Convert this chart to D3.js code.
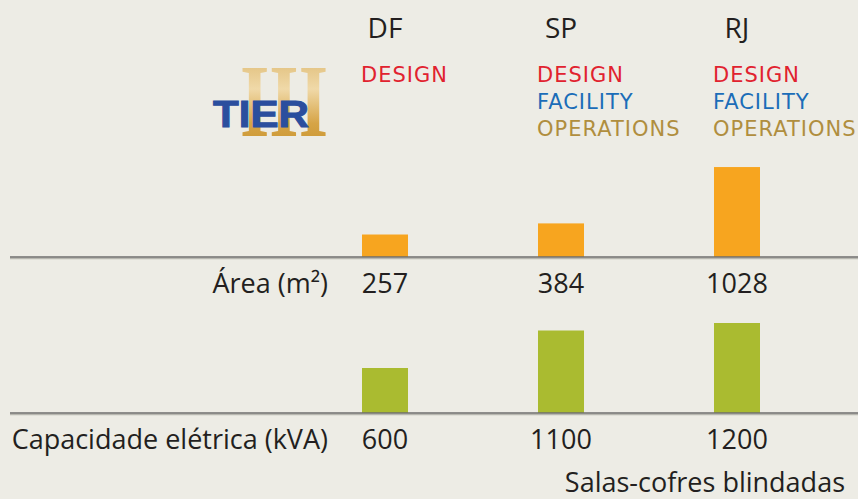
<!DOCTYPE html>
<html>
<head>
<meta charset="utf-8">
<script src="https://cdn.jsdelivr.net/npm/d3@7"></script>
<style>
  html, body { margin: 0; padding: 0; background: #edece5; }
  svg { display: block; }
</style>
</head>
<body>
<div id="chart"></div>
<script>
const width = 858;
const height = 499;

const cities = ["DF", "SP", "RJ"];
const areaValues = [257, 384, 1028];
const powerValues = [600, 1100, 1200];
const certifications = [
  ["DESIGN"],
  ["DESIGN", "FACILITY", "OPERATIONS"],
  ["DESIGN", "FACILITY", "OPERATIONS"]
];
const rowLabels = ["Área (m²)", "Capacidade elétrica (kVA)"];
const footnote = "Salas-cofres blindadas";

const certColors = { DESIGN: "#e1222f", FACILITY: "#1b6db8", OPERATIONS: "#b08e3e" };
const textFont = "'Open Sans', 'Noto Sans', sans-serif";

const svg = d3.select("#chart")
  .append("svg")
  .attr("width", width)
  .attr("height", height);

svg.append("rect").attr("width", width).attr("height", height).attr("fill", "#edece5");

const x = d3.scaleBand()
  .domain(cities)
  .range([362, 760])
  .paddingInner(0.7386)
  .paddingOuter(0);

const rows = [
  { label: rowLabels[0], values: areaValues, color: "#f7a51f",
    y: d3.scaleLinear().domain([0, 1200]).range([257, 152]), textY: 293 },
  { label: rowLabels[1], values: powerValues, color: "#aabb30",
    y: d3.scaleLinear().domain([0, 1200]).range([413, 323]), textY: 449 }
];

// column headers
svg.selectAll(".city")
  .data(cities)
  .enter()
  .append("text")
  .attr("class", "city")
  .attr("x", (d) => x(d) + x.bandwidth() / 2)
  .attr("y", 38)
  .attr("text-anchor", "middle")
  .attr("font-family", textFont)
  .attr("font-size", 28)
  .attr("fill", "#231f20")
  .text((d) => d);

// certification labels
cities.forEach((c, i) => {
  svg.selectAll(null)
    .data(certifications[i])
    .enter()
    .append("text")
    .attr("x", x(c) - 1)
    .attr("y", (_, j) => 82 + j * 27)
    .attr("font-family", "'DejaVu Sans', sans-serif")
    .attr("font-size", 21)
    .attr("letter-spacing", 1)
    .attr("fill", (d) => certColors[d])
    .text((d) => d);
});

// TIER III logo
const defs = svg.append("defs");
const grad = defs.append("linearGradient")
  .attr("id", "gold")
  .attr("x1", 0).attr("y1", 0).attr("x2", 0).attr("y2", 1);
grad.append("stop").attr("offset", "0%").attr("stop-color", "#d8b163");
grad.append("stop").attr("offset", "40%").attr("stop-color", "#f0d9a8");
grad.append("stop").attr("offset", "70%").attr("stop-color", "#d6a446");
grad.append("stop").attr("offset", "100%").attr("stop-color", "#c58f28");

svg.append("text")
  .attr("x", 240)
  .attr("y", 136)
  .attr("textLength", 88)
  .attr("lengthAdjust", "spacingAndGlyphs")
  .attr("font-family", "'Liberation Serif', 'DejaVu Serif', serif")
  .attr("font-weight", "bold")
  .attr("font-size", 104)
  .attr("fill", "url(#gold)")
  .text("III");

svg.append("text")
  .attr("x", 213)
  .attr("y", 127)
  .attr("textLength", 96)
  .attr("lengthAdjust", "spacingAndGlyphs")
  .attr("font-family", "'Liberation Sans', Arial, sans-serif")
  .attr("font-weight", "bold")
  .attr("font-size", 37)
  .attr("fill", "#2b4e9e")
  .attr("stroke", "#2b4e9e")
  .attr("stroke-width", 1)
  .text("TIER");

// bar rows
rows.forEach((row) => {
  const g = svg.append("g");

  g.selectAll(".bar")
    .data(row.values)
    .enter()
    .append("rect")
    .attr("class", "bar")
    .attr("x", (_, i) => x(cities[i]))
    .attr("y", (d) => row.y(d))
    .attr("width", x.bandwidth())
    .attr("height", (d) => row.y(0) - row.y(d))
    .attr("fill", row.color);

  // baseline with soft shadow
  g.append("line")
    .attr("x1", 10).attr("x2", width)
    .attr("y1", row.y(0) + 1.5).attr("y2", row.y(0) + 1.5)
    .attr("stroke", "#b8b7b0")
    .attr("stroke-width", 1.5);
  g.append("line")
    .attr("x1", 10).attr("x2", width)
    .attr("y1", row.y(0)).attr("y2", row.y(0))
    .attr("stroke", "#6e6e6c")
    .attr("stroke-width", 1.6);

  g.selectAll(".val")
    .data(row.values)
    .enter()
    .append("text")
    .attr("class", "val")
    .attr("x", (_, i) => x(cities[i]) + x.bandwidth() / 2)
    .attr("y", row.textY)
    .attr("text-anchor", "middle")
    .attr("font-family", textFont)
    .attr("font-size", 27)
    .attr("fill", "#231f20")
    .text((d) => d);

  g.append("text")
    .attr("x", 328)
    .attr("y", row.textY)
    .attr("text-anchor", "end")
    .attr("font-family", textFont)
    .attr("font-size", 27)
    .attr("fill", "#231f20")
    .text(row.label);
});

svg.append("text")
  .attr("x", 845)
  .attr("y", 492)
  .attr("text-anchor", "end")
  .attr("font-family", textFont)
  .attr("font-size", 27)
  .attr("fill", "#231f20")
  .text(footnote);
</script>
</body>
</html>
